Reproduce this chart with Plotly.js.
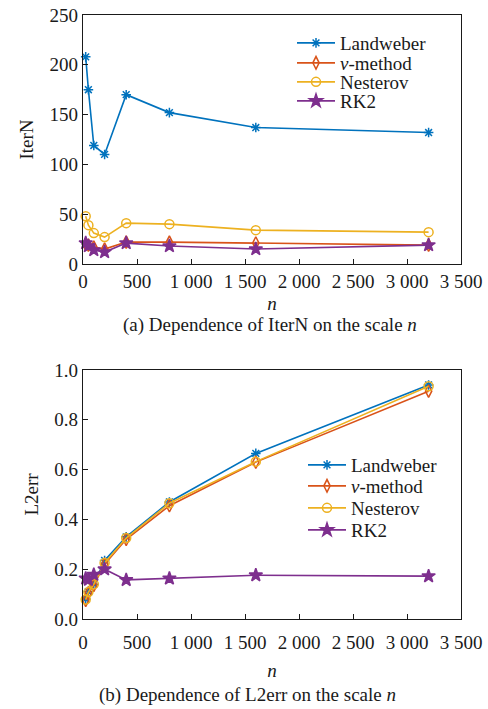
<!DOCTYPE html>
<html>
<head>
<meta charset="utf-8">
<script src="https://cdn.plot.ly/plotly-3.0.1.min.js"></script>
<style>
  html, body { margin: 0; padding: 0; background: #fff; }
  #chart { width: 488px; height: 709px; }
</style>
</head>
<body>
<div id="chart"></div>
<script>
// Problem scale n
const scaleN = [25, 50, 100, 200, 400, 800, 1600, 3200];

// Iteration counts (IterN)
const iterLandweber = [208, 175, 119, 110, 170, 152, 137, 132];
const iterNuMethod  = [20, 19, 17, 15, 22, 22, 21, 19];
const iterNesterov  = [48, 39, 31, 27, 41, 40, 34, 32];
const iterRK2       = [21, 18, 14, 12, 21, 18, 15, 19];

// Relative L2 error (L2err)
const errLandweber = [0.080, 0.110, 0.140, 0.235, 0.330, 0.470, 0.665, 0.940];
const errNuMethod  = [0.075, 0.105, 0.135, 0.220, 0.320, 0.455, 0.630, 0.915];
const errNesterov  = [0.078, 0.108, 0.140, 0.225, 0.325, 0.465, 0.632, 0.935];
const errRK2       = [0.163, 0.158, 0.178, 0.200, 0.157, 0.163, 0.176, 0.172];

// Axis ticks
const xTickVals = [0, 500, 1000, 1500, 2000, 2500, 3000, 3500];
const xTickText = ['0', '500', '1 000', '1 500', '2 000', '2 500', '3 000', '3 500'];
const yTickValsIter = [0, 50, 100, 150, 200, 250];
const yTickValsErr = [0, 0.2, 0.4, 0.6, 0.8, 1.0];

const methodNames = ['Landweber', '<i>ν</i>-method', 'Nesterov', 'RK2'];

const FONT = 'Liberation Serif';
const INK = '#1a1a1a';

const styles = [
  { color: '#0072BD', symbol: 'asterisk-open', size: 8 },
  { color: '#D95319', symbol: 'diamond-tall-open', size: 9 },
  { color: '#EDB120', symbol: 'circle-open', size: 9 },
  { color: '#7E2F8E', symbol: 'star', size: 10 }
];

const iterSeries = [iterLandweber, iterNuMethod, iterNesterov, iterRK2];
const errSeries = [errLandweber, errNuMethod, errNesterov, errRK2];

function makeTrace(y, i, axisSuffix, legendId) {
  const s = styles[i];
  return {
    x: scaleN,
    y: y,
    name: methodNames[i],
    type: 'scatter',
    mode: 'lines+markers',
    xaxis: 'x' + axisSuffix,
    yaxis: 'y' + axisSuffix,
    legend: legendId,
    showlegend: true,
    line: { color: s.color, width: 1.6 },
    marker: {
      symbol: s.symbol,
      size: s.size,
      color: s.color,
      line: { color: s.color, width: 1.5 }
    },
    cliponaxis: false
  };
}

const traces = [];
iterSeries.forEach((y, i) => traces.push(makeTrace(y, i, '', i === 0 ? 'legend' : 'legend' + (i + 1))));
errSeries.forEach((y, i) => traces.push(makeTrace(y, i, '2', 'legend' + (i + 5))));

// Plot area in pixels: left 83, right 461, top 15, bottom 619
const M = { l: 83, r: 27, t: 15, b: 90 };
const plotH = 709 - M.t - M.b;
const px2x = px => (px - M.l) / (488 - M.l - M.r);
const px2y = py => (709 - M.b - py) / plotH;

function axisBase() {
  return {
    showline: true,
    mirror: true,
    linecolor: INK,
    linewidth: 1.3,
    ticks: 'inside',
    ticklen: 5,
    tickwidth: 1,
    tickcolor: INK,
    showgrid: false,
    zeroline: false,
    tickfont: { family: FONT, size: 19, color: INK },
    automargin: false
  };
}

const xTop = Object.assign(axisBase(), {
  domain: [0, 1], anchor: 'y', range: [0, 3500],
  tickvals: xTickVals, ticktext: xTickText,
  title: { text: '<i>n</i>', font: { family: FONT, size: 19, color: INK }, standoff: 5 }
});
const yTop = Object.assign(axisBase(), {
  domain: [px2y(264), 1], anchor: 'x', range: [0, 250],
  tickvals: yTickValsIter,
  title: { text: 'IterN', font: { family: FONT, size: 19, color: INK }, standoff: 10 }
});
const xBot = Object.assign(axisBase(), {
  domain: [0, 1], anchor: 'y2', range: [0, 3500],
  tickvals: xTickVals, ticktext: xTickText,
  ticklabelstandoff: 6,
  title: { text: '<i>n</i>', font: { family: FONT, size: 19, color: INK }, standoff: 11 }
});
const yBot = Object.assign(axisBase(), {
  domain: [0, px2y(370)], anchor: 'x2', range: [0, 1],
  tickvals: yTickValsErr, tickformat: '.1f',
  title: { text: 'L2err', font: { family: FONT, size: 19, color: INK }, standoff: 10 }
});

// One legend per entry so the rows sit as tightly as in the figure
function legendAt(xpx, ypx) {
  return {
    x: px2x(xpx), y: px2y(ypx),
    xanchor: 'left', yanchor: 'middle',
    xref: 'paper', yref: 'paper',
    bgcolor: 'rgba(0,0,0,0)', borderwidth: 0,
    itemwidth: 38,
    font: { family: FONT, size: 19, color: INK }
  };
}

const layout = {
  width: 488,
  height: 709,
  margin: M,
  showlegend: true,
  paper_bgcolor: '#fff',
  plot_bgcolor: '#fff',
  font: { family: FONT, color: INK },
  xaxis: xTop, yaxis: yTop,
  xaxis2: xBot, yaxis2: yBot,
  legend: legendAt(292, 43),
  legend2: legendAt(292, 63),
  legend3: legendAt(292, 82),
  legend4: legendAt(292, 101),
  legend5: legendAt(303, 465),
  legend6: legendAt(303, 486),
  legend7: legendAt(303, 508),
  legend8: legendAt(303, 530),
  annotations: [
    {
      text: '(a) Dependence of IterN on the scale <i>n</i>',
      xref: 'paper', yref: 'paper',
      x: px2x(270), y: px2y(325),
      xanchor: 'center', yanchor: 'middle', showarrow: false,
      font: { family: FONT, size: 19, color: INK }
    },
    {
      text: '(b) Dependence of L2err on the scale <i>n</i>',
      xref: 'paper', yref: 'paper',
      x: px2x(247), y: px2y(695),
      xanchor: 'center', yanchor: 'middle', showarrow: false,
      font: { family: FONT, size: 19, color: INK }
    }
  ]
};

Plotly.newPlot('chart', traces, layout, { displayModeBar: false, staticPlot: true });
</script>
</body>
</html>
